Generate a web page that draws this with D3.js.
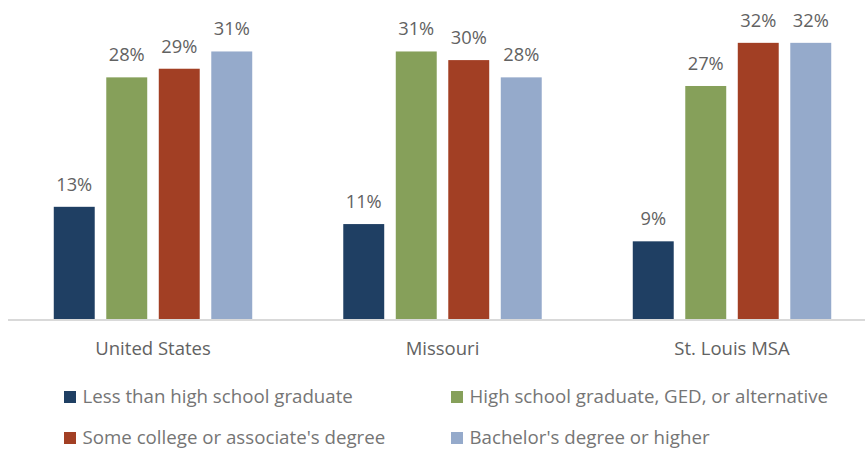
<!DOCTYPE html>
<html>
<head>
<meta charset="utf-8">
<script src="https://cdn.jsdelivr.net/npm/d3@7"></script>
<style>
  html, body { margin: 0; padding: 0; background: #fff; }
  svg { display: block; }
  text { font-family: "Open Sans", "Noto Sans", sans-serif; }
</style>
</head>
<body>
<svg id="chart" width="865" height="452"></svg>
<script>
// Educational attainment by area (share of adults 25+)
const regions = ["United States", "Missouri", "St. Louis MSA"];
const levels = [
  "Less than high school graduate",
  "High school graduate, GED, or alternative",
  "Some college or associate's degree",
  "Bachelor's degree or higher"
];
const lessThanHS = [13, 11, 9];
const highSchool = [28, 31, 27];
const someCollege = [29, 30, 32];
const bachelors = [31, 28, 32];
const colors = ["#1F3F63", "#86A05A", "#A23F24", "#95AACB"];

const seriesValues = [lessThanHS, highSchool, someCollege, bachelors];

const svg = d3.select("#chart");
const baseline = 319;

const x0 = d3.scaleBand().domain(regions).range([8.25, 876.75]).padding(0);
const x1 = d3.scaleBand().domain(levels).range([0, x0.bandwidth()])
  .paddingInner(0.22).paddingOuter(0.867);
const y = d3.scaleLinear().domain([0, 35]).range([baseline, baseline - 35 * 8.63]);
const color = d3.scaleOrdinal().domain(levels).range(colors);

const data = regions.map((r, i) => ({
  region: r,
  values: levels.map((l, j) => ({ level: l, value: seriesValues[j][i] }))
}));

const groups = svg.append("g").selectAll("g").data(data).join("g")
  .attr("transform", d => `translate(${x0(d.region)},0)`);

groups.selectAll("rect").data(d => d.values).join("rect")
  .attr("x", d => x1(d.level))
  .attr("width", x1.bandwidth())
  .attr("y", d => y(d.value))
  .attr("height", d => y(0) - y(d.value))
  .attr("fill", d => color(d.level));

groups.selectAll("text.val").data(d => d.values).join("text")
  .attr("class", "val")
  .attr("x", d => x1(d.level) + x1.bandwidth() / 2)
  .attr("y", d => y(d.value) - 16)
  .attr("text-anchor", "middle")
  .attr("font-size", 18.3)
  .attr("fill", "#626262")
  .text(d => d.value + "%");

// category axis
const xAxis = svg.append("g").attr("transform", `translate(0,${baseline + 1})`)
  .call(d3.axisBottom(x0).tickSize(0).tickPadding(0));
xAxis.select(".domain").attr("stroke", "#D9D9D9").attr("stroke-width", 2)
  .attr("d", `M8,0H865`);
xAxis.selectAll(".tick text")
  .attr("y", 35).attr("dy", 0)
  .attr("font-family", "'Open Sans', 'Noto Sans', sans-serif")
  .attr("font-size", 18.5)
  .attr("fill", "#626262");

// legend
const legendPos = [[64, 403], [451, 403], [64, 444], [451, 444]];
const legend = svg.append("g").selectAll("g").data(levels).join("g")
  .attr("transform", (d, i) => `translate(${legendPos[i][0]},${legendPos[i][1]})`);
legend.append("rect").attr("x", 0).attr("y", -12).attr("width", 12).attr("height", 12)
  .attr("fill", d => color(d));
legend.append("text").attr("x", 18.5).attr("y", 0)
  .attr("font-size", 18.7).attr("fill", "#757575")
  .text(d => d);
</script>
</body>
</html>
